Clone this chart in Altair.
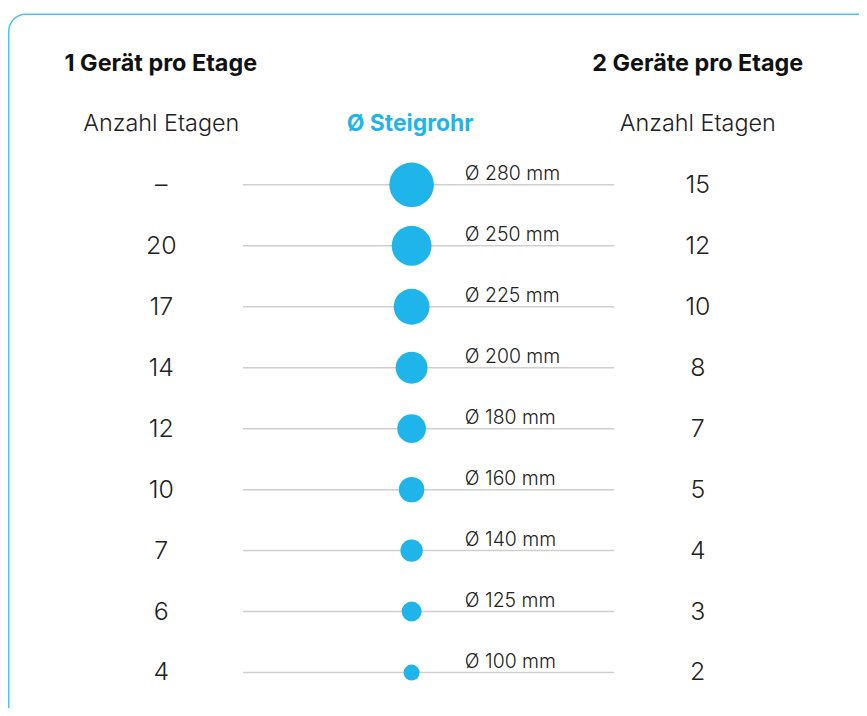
import altair as alt
import pandas as pd

# data
diameters = [280, 250, 225, 200, 180, 160, 140, 125, 100]
labels = ["Ø 280 mm", "Ø 250 mm", "Ø 225 mm", "Ø 200 mm", "Ø 180 mm",
          "Ø 160 mm", "Ø 140 mm", "Ø 125 mm", "Ø 100 mm"]
one_device = ["–", "20", "17", "14", "12", "10", "7", "6", "4"]
two_devices = ["15", "12", "10", "8", "7", "5", "4", "3", "2"]

headers_left = ["1 Gerät pro Etage", "Anzahl Etagen"]
headers_right = ["2 Geräte pro Etage", "Anzahl Etagen"]
header_mid = "Ø Steigrohr"

BLUE = "#1fb5ea"
FONT = "Inter"

df = pd.DataFrame({
    "diameter": diameters,
    "label": labels,
    "one": one_device,
    "two": two_devices,
})

W, H = 855, 700

yenc = alt.Y("label:N", scale=alt.Scale(type="point", domain=labels, range=[176, 666], padding=0),
             axis=None)

base = alt.Chart(df)

lines = base.mark_rule(color="#cfcfcf", strokeWidth=1.5).encode(
    y=yenc, x=alt.value(236), x2=alt.value(609)
)

circles = base.mark_circle(color=BLUE, opacity=1).encode(
    y=yenc, x=alt.value(405.5),
    size=alt.Size("diameter:Q", scale=alt.Scale(type="pow", exponent=2, domain=[0, 280], range=[0, 2007]),
                  legend=None),
)

diam_text = base.mark_text(align="left", baseline="alphabetic", dy=-5, fontSize=19.5,
                           font=FONT, fontWeight=300, color="#222222").encode(
    y=yenc, x=alt.value(459), text="label:N"
)

left_nums = base.mark_text(align="center", baseline="middle", fontSize=25,
                           font=FONT, fontWeight=300, color="#222222").encode(
    y=yenc, x=alt.value(154), text="one:N"
)
right_nums = base.mark_text(align="center", baseline="middle", fontSize=25,
                            font=FONT, fontWeight=300, color="#222222").encode(
    y=yenc, x=alt.value(693), text="two:N"
)

one = alt.Data(values=[{}])

def label(txt, x, y, size, weight, color="#111111"):
    return alt.Chart(one).mark_text(align="center", baseline="middle", fontSize=size,
                                    font=FONT, fontWeight=weight, color=color).encode(
        x=alt.value(x), y=alt.value(y), text=alt.value(txt)
    )

h1 = label(headers_left[0], 153.5, 55, 23.5, 700)
h2 = label(headers_right[0], 693, 55, 23.5, 700)
h3 = label(headers_left[1], 154, 115, 23.5, 300, "#222222")
h4 = label(headers_right[1], 693, 115, 23.5, 300, "#222222")
h5 = label(header_mid, 404, 115, 23, 700, BLUE)

border = alt.Chart(one).mark_rect(filled=False, stroke="#4cc3ee", strokeWidth=1.5,
                                  cornerRadius=17).encode(
    x=alt.value(0.75), x2=alt.value(W + 40), y=alt.value(4.75), y2=alt.value(H + 40)
)

chart = alt.layer(border, lines, circles, diam_text, left_nums, right_nums,
                  h1, h2, h3, h4, h5).properties(
    width=W, height=H, padding=0,
    autosize=alt.AutoSizeParams(type="none"),
    background="white",
).configure_view(stroke=None)

chart.save("out.html", embed_options={"renderer": "svg", "actions": False})
